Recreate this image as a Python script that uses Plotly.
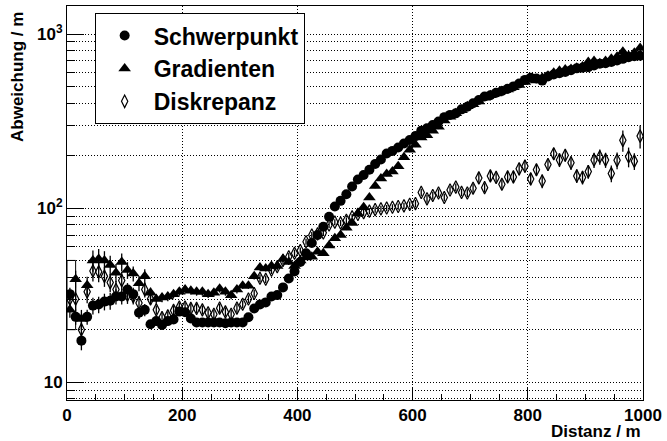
import plotly.graph_objects as go

# bin centres along the track (m)
distanz = list(range(5, 1000, 10))

schwerpunkt = [
    32, 23.7, 17.3, 23.7, 27.5, 27.9, 29, 29.3, 31, 31,
    34, 32, 25, 26, 21.5, 22.4, 21.3, 22.4, 22.9, 25.4,
    25.2, 23.2, 22, 22, 22, 22, 22, 21.8, 22, 22,
    22, 23.6, 26.5, 27.9, 28.7, 31, 31.6, 35, 39.4, 43.2,
    49, 55, 63, 70, 78, 89, 102, 110, 120, 133,
    146, 155, 166, 179, 190, 206, 213, 223, 235, 246,
    259, 278, 287, 300, 314, 333, 343, 350, 369, 382,
    400, 418, 437, 445, 460, 470, 485, 500, 520, 545,
    560, 555, 540, 570, 585, 595, 605, 620, 635, 640,
    645, 660, 675, 680, 690, 705, 720, 735, 745, 750,
]

gradienten = [
    26, 39, 23, 36, 50, 51, 50, 47, 42.5, 49,
    44, 42, 37, 40.5, 32.6, 30, 30.6, 31, 32, 33,
    34, 33.5, 33, 33, 32, 32.6, 34.4, 33, 31.5, 34,
    35.8, 35.8, 40.5, 45.6, 45, 46.5, 46.5, 51, 49, 46.5,
    50, 52, 52.5, 56, 55, 61, 67, 70, 77, 82,
    93, 101, 115, 134, 148, 157, 162, 174, 196, 216,
    231, 254, 262, 278, 293, 318, 335, 350, 365, 385,
    395, 410, 430, 445, 455, 470, 480, 495, 510, 530,
    550, 540, 560, 575, 600, 615, 625, 630, 640, 650,
    690, 700, 680, 700, 720, 740, 790, 750, 780, 830,
]

diskrepanz = [
    30, 30, 20, 33, 43.5, 43, 40.5, 37.3, 34, 38.3,
    31.6, 31, 28.5, 34, 30, 26, 23.5, 24, 25.8, 27,
    27, 26.5, 26.5, 26, 25, 24.5, 26.6, 25.3, 24.5, 26.6,
    28, 30, 32.3, 39.5, 39, 44, 46, 50, 52.5, 55,
    57, 64, 70, 71, 72, 80, 83, 82, 85, 89,
    92, 94, 96, 98, 99, 100, 101, 102, 103, 105,
    106, 123, 113, 118, 122, 115, 127, 132, 123, 122,
    130, 149, 131, 153, 150, 137, 151, 151, 168, 174,
    147, 166, 143, 178, 205, 189, 201, 182, 153, 150,
    162, 189, 197, 189, 158, 188, 245, 197, 186, 259,
]

# statistical uncertainties in percent of the value
schwerpunkt_err_pct = [
    9, 10, 12, 10, 11, 11, 11, 11, 10, 10,
    9, 9, 8, 8, 6, 6, 6, 6, 5, 5,
    5, 5, 4, 4, 4, 4, 4, 4, 4, 4,
    4, 4, 4, 4, 4, 4, 4, 4, 3, 3,
    3, 3, 3, 3, 3, 3, 3, 3, 3, 3,
    3, 3, 3, 3, 3, 3, 3, 3, 3, 3,
    3, 3, 3, 3, 3, 3, 3, 3, 3, 3,
    3, 3, 3, 3, 3, 3, 3, 3, 3, 3,
    3, 3, 3, 3, 3, 3, 3, 3, 3, 3,
    3, 3, 3, 3, 3, 3, 3, 3, 3, 3,
]
gradienten_err_pct = [
    10, 12, 13, 12, 14, 14, 13, 13, 12, 12,
    11, 10, 10, 10, 7, 6, 6, 6, 5, 5,
    5, 5, 5, 5, 5, 5, 5, 5, 5, 5,
    4, 4, 4, 4, 4, 4, 4, 4, 4, 4,
    3, 3, 3, 3, 3, 3, 3, 3, 3, 3,
    3, 3, 3, 3, 3, 3, 3, 3, 3, 3,
    3, 3, 3, 3, 3, 3, 3, 3, 3, 3,
    3, 3, 3, 3, 3, 3, 3, 3, 3, 3,
    3, 3, 3, 3, 3, 3, 3, 3, 3, 3,
    3, 3, 3, 3, 3, 3, 3, 3, 3, 3,
]
diskrepanz_err_pct = [
    12, 14, 14, 14, 13, 13, 13, 12, 12, 12,
    11, 10, 10, 10, 7, 6, 6, 6, 6, 6,
    6, 6, 6, 6, 6, 6, 6, 6, 6, 6,
    5, 5, 5, 5, 5, 5, 5, 5, 5, 5,
    4, 4, 4, 4, 4, 4, 4, 4, 4, 4,
    4, 4, 4, 4, 4, 4, 4, 4, 4, 4,
    5, 5, 5, 5, 5, 5, 5, 5, 5, 5,
    6, 7, 6, 7, 7, 7, 7, 8, 8, 8,
    8, 8, 9, 8, 8, 9, 8, 9, 9, 9,
    9, 10, 10, 10, 11, 11, 14, 13, 11, 15,
]

# error box of the first bin
box_x = [0, 15]
box_y = [20, 50]

y_tick_vals = [10, 100, 1000]
y_tick_text = ["10", "10<sup>2</sup>", "10<sup>3</sup>"]
y_minor_vals = [8, 9, 20, 30, 40, 50, 60, 70, 80, 90,
                200, 300, 400, 500, 600, 700, 800, 900]

FONT = "Liberation Sans"
GRID_DASH = "1px,2px"


def abs_err(values, pct):
    return [v * p / 100.0 for v, p in zip(values, pct)]


fig = go.Figure()

fig.add_shape(type="rect", xref="x", yref="y",
              x0=box_x[0], x1=box_x[1], y0=box_y[0], y1=box_y[1],
              line=dict(color="black", width=1), fillcolor="rgba(0,0,0,0)")

series = [
    ("Schwerpunkt", schwerpunkt, schwerpunkt_err_pct,
     dict(symbol="circle", size=10, color="black")),
    ("Gradienten", gradienten, gradienten_err_pct,
     dict(symbol="triangle-up", size=11, color="black")),
    ("Diskrepanz", diskrepanz, diskrepanz_err_pct,
     dict(symbol="diamond-tall-open", size=9, color="black",
          line=dict(color="black", width=1.2))),
]

for i, (name, vals, pct, marker) in enumerate(series):
    fig.add_trace(go.Scatter(
        x=distanz, y=vals, mode="markers", name=name,
        marker=marker, legendgroup=str(i),
        error_y=dict(type="data", array=abs_err(vals, pct),
                     color="black", thickness=1.3, width=0),
    ))

fig.update_layout(
    width=667, height=441,
    margin=dict(l=67, r=20, t=5, b=41),
    paper_bgcolor="white", plot_bgcolor="white",
    font=dict(family=FONT, size=17, color="black", weight="bold"),
    showlegend=True,
    legend=dict(
        x=0.048, y=0.982, xanchor="left", yanchor="top",
        bgcolor="white", bordercolor="black", borderwidth=1,
        font=dict(family=FONT, size=23, color="black", weight="bold"),
        traceorder="grouped", tracegroupgap=0,
        itemwidth=48,
    ),
    xaxis=dict(
        range=[0, 1000], dtick=200, tick0=0,
        ticks="inside", ticklen=12, tickwidth=1, tickcolor="black",
        showline=True, linecolor="black", linewidth=1, mirror=True,
        showgrid=True, gridcolor="black", griddash=GRID_DASH, gridwidth=1,
        zeroline=False,
        minor=dict(dtick=50, ticks="inside", ticklen=6, tickcolor="black",
                   showgrid=False),
        tickfont=dict(family=FONT, size=17, weight="bold"),
    ),
    yaxis=dict(
        type="log", range=[0.897, 3.161],
        tickvals=y_tick_vals, ticktext=y_tick_text,
        ticks="inside", ticklen=17, tickwidth=1, tickcolor="black",
        showline=True, linecolor="black", linewidth=1, mirror=True,
        showgrid=True, gridcolor="black", griddash=GRID_DASH, gridwidth=1,
        zeroline=False,
        minor=dict(tickvals=y_minor_vals, ticks="inside", ticklen=8,
                   tickcolor="black", showgrid=True, gridcolor="black",
                   griddash=GRID_DASH, gridwidth=1),
        tickfont=dict(family=FONT, size=17, weight="bold"),
    ),
    annotations=[
        dict(text="Distanz / m", xref="paper", yref="paper",
             x=1.0, y=-0.08, xanchor="right", yanchor="middle",
             showarrow=False,
             font=dict(family=FONT, size=17, weight="bold")),
        dict(text="Abweichung / m", xref="paper", yref="paper",
             x=-0.085, y=0.99, xanchor="center", yanchor="top",
             textangle=-90, showarrow=False,
             font=dict(family=FONT, size=17, weight="bold")),
    ],
)

fig.write_html("out.html")
